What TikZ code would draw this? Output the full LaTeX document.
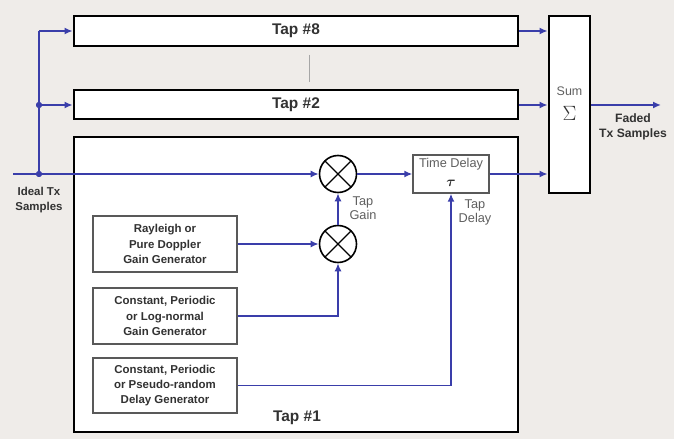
\documentclass[tikz,border=0pt]{standalone}
\usepackage{bm}
\usepackage{fontspec}
\setmainfont{Liberation Sans}
\usetikzlibrary{arrows.meta}
\definecolor{bg}{RGB}{239,236,233}
\definecolor{wirec}{RGB}{58,62,170}
\definecolor{txt}{RGB}{50,50,50}
\definecolor{ltxt}{RGB}{95,95,95}
\begin{document}
\begin{tikzpicture}[x=1bp,y=-1bp,
  tapbox/.style={draw=black, line width=2.8bp, fill=white, inner sep=0,
    font=\fontsize{15.5}{18}\selectfont\bfseries, text=txt},
  genbox/.style={draw=black!65, line width=1.3bp, fill=white, align=center,
    font=\fontsize{11.5}{15.5}\selectfont\bfseries, text=txt,
    minimum width=144bp, inner sep=0},
  wire/.style={draw=wirec, line width=1.8bp},
  arr/.style={wire, -{Latex[length=8bp,width=7bp]}},
  mult/.style={circle, draw=black, line width=1.6bp, fill=white,
    minimum size=37bp, inner sep=0,
    path picture={\draw[line width=1.4bp]
      (path picture bounding box.north west) -- (path picture bounding box.south east)
      (path picture bounding box.north east) -- (path picture bounding box.south west);}},
  dot/.style={circle, fill=wirec, inner sep=0, minimum size=6bp},
  blabel/.style={align=center, font=\fontsize{11.5}{15}\selectfont\bfseries, text=txt},
  glabel/.style={align=center, font=\fontsize{12.8}{14}\selectfont, text=ltxt}]
\useasboundingbox (0,0) rectangle (674,439);
\fill[bg] (0,0) rectangle (674,439);

% tap boxes
\node[tapbox, minimum width=444bp, minimum height=30bp] (t8) at (296,31) {Tap \#8};
\node[tapbox, minimum width=444bp, minimum height=29bp] (t2) at (296,104.5) {Tap \#2};
\node[tapbox, minimum width=444bp, minimum height=295bp] (t1) at (296,284.5) {};
\node[blabel, font=\fontsize{15.5}{18}\selectfont\bfseries] (t1lab) at (297,418) {Tap \#1};
\draw[black!35, line width=0.8bp] (309,55) -- (309,82);

% sum box
\node[tapbox, minimum width=41bp, minimum height=177bp] (sum) at (569.5,104.5) {};
\node[glabel, font=\fontsize{12.5}{14}\selectfont] (sumlab) at (569.5,91) {Sum};
\node[text=txt, font=\fontsize{21}{21}\selectfont] (sig) at (569.5,113) {$\Sigma$};

% inside tap #1
\node[mult] (m1) at (338,174) {};
\node[mult] (m2) at (338,244) {};
\node[draw=black!65, line width=1.3bp, fill=white, minimum width=76bp, minimum height=38bp,
  inner sep=0] (td) at (451,174) {};
\node[glabel] (tdlab) at (451,164.5) {Time Delay};
\node[text=txt, font=\fontsize{14}{14}\selectfont] (tau) at (451,183) {$\bm{\tau}$};

\node[genbox, minimum height=56bp] (rg) at (165,244) {Rayleigh or\\Pure Doppler\\Gain Generator};
\node[genbox, minimum height=56bp] (cg) at (165,316) {Constant, Periodic\\or Log-normal\\Gain Generator};
\node[genbox, minimum height=55bp] (dg) at (165,385.5) {Constant, Periodic\\or Pseudo-random\\Delay Generator};

\node[glabel] (tgain) at (363,208.5) {Tap\\Gain};
\node[glabel] (tdel) at (475,212.5) {Tap\\Delay};

% labels
\node[blabel] (inlab) at (39,200.5) {Ideal Tx\\Samples};
\node[blabel, font=\fontsize{12.2}{15.5}\selectfont\bfseries] (outlab) at (633,127) {Faded\\Tx Samples};

% wires
\coordinate (in) at (13,174);
\coordinate (c8) at (39,31);
\coordinate (out) at (661,105);
\node[dot] (j1) at (39,174) {};
\node[dot] (j2) at (39,105) {};
\draw[wire] (in) -- (j1);
\draw[wire] (j1) -- (j2) -- (c8);
\draw[arr] (j1) -- (m1.west);
\draw[arr] (c8) -- (t8.west);
\draw[arr] (j2) -- (t2.west |- j2);
\draw[arr] (m1.east) -- (td.west);
\draw[arr] (td.east) -- (td.east -| sum.west);
\draw[arr] (t8.east) -- (t8.east -| sum.west);
\draw[arr] (t2.east |- j2) -- (sum.west |- j2);
\draw[arr] (sum.east |- out) -- (out);
\draw[arr] (m2.north) -- (m1.south);
\draw[arr] (rg.east) -- (m2.west);
\draw[arr] (cg.east) -| (m2.south);
\draw[arr] (dg.east) -| (td.south);
\node[dot] at (j1) {};
\node[dot] at (j2) {};
\end{tikzpicture}
\end{document}
